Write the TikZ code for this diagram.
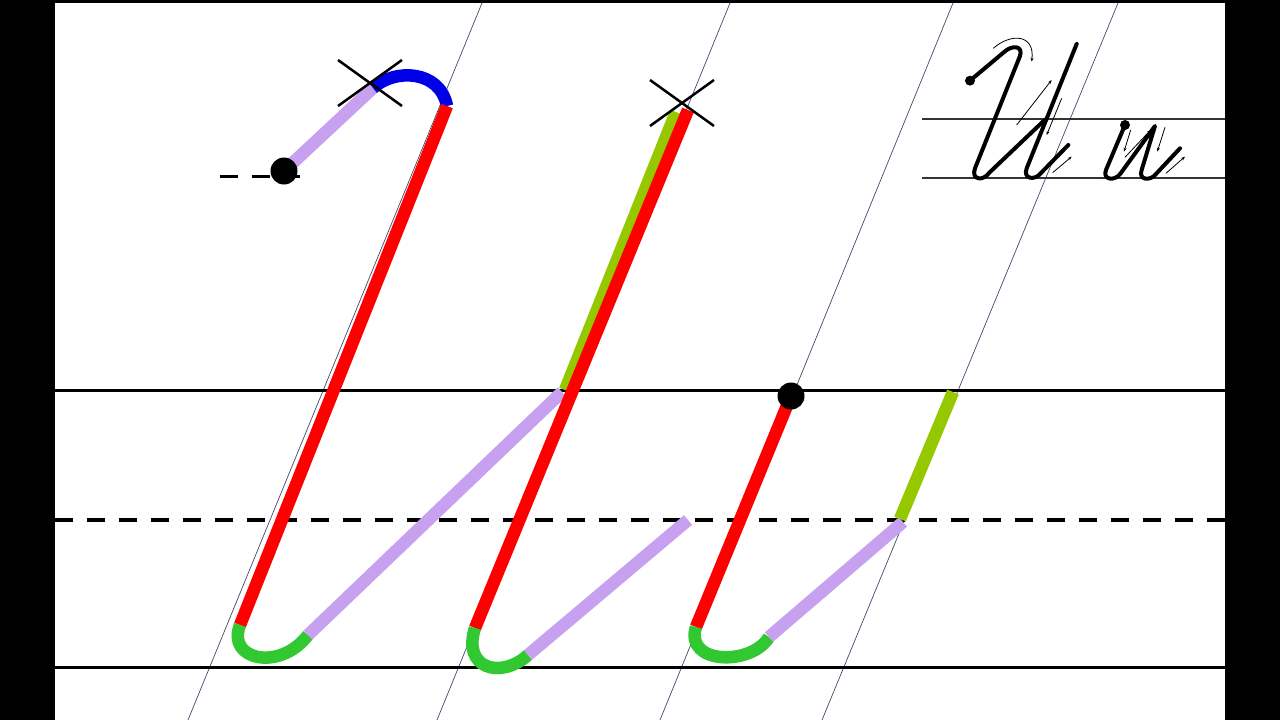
\documentclass[tikz,border=0pt]{standalone}
\usepackage{tikz}
\usetikzlibrary{arrows.meta}
\definecolor{strokered}{RGB}{255,0,0}
\definecolor{lilac}{RGB}{200,160,240}
\definecolor{hookgreen}{RGB}{50,200,50}
\definecolor{olive}{RGB}{150,200,0}
\definecolor{arcblue}{RGB}{0,0,230}
\definecolor{slantgray}{RGB}{70,70,110}
\begin{document}
\begin{tikzpicture}[
		x=1pt, y=-1pt,
		>=Stealth,
		penline/.style={line width=12.5pt, line cap=butt},
		ruleline/.style={line width=3pt, black},
		slantline/.style={line width=0.7pt, slantgray},
		crossmark/.style={line width=2.5pt, black},
		dotmark/.style={fill=black, circle, inner sep=0pt, minimum size=27pt},
		sample/.style={line width=4pt, black, line cap=round, line join=round},
		hint/.style={line width=0.8pt, black, -{Stealth[length=4pt,width=3pt]}},
	]
	\useasboundingbox (0,0) rectangle (1280,720);
	\fill[white] (0,0) rectangle (1280,720);

	% ruling
	\foreach \xa/\xb in {482/188, 730/437, 953/660, 1118/822}
		\draw[slantline] (\xa,3) -- (\xb,720);
	\draw[ruleline] (55,390) -- (1225,390);
	\draw[ruleline] (55,667) -- (1225,667);
	\draw[ruleline, line width=3.5pt, dash pattern=on 18pt off 14pt] (55,520) -- (1225,520);
	\draw[line width=1.2pt, black!80] (922,119) -- (1225,119);
	\draw[line width=1.2pt, black!80] (922,178) -- (1225,178);

	% first letter
	\coordinate (start1) at (284,171);
	\coordinate (cross1) at (373,88);
	\coordinate (top1) at (447,106);
	\coordinate (foot1) at (240,625);
	\coordinate (rise1) at (308,635);
	\coordinate (join1) at (562,392);
	\draw[line width=3pt, dash pattern=on 18pt off 14pt] (220,176) -- (300,176);
	\draw[penline, lilac] (start1) -- (cross1);
	\draw[penline, arcblue] (cross1) .. controls (395,68) and (440,70) .. (top1);
	\draw[penline, strokered] (top1) -- (foot1);
	\draw[penline, hookgreen] (foot1) .. controls (226,660) and (280,672) .. (rise1);
	\draw[penline, lilac] (rise1) -- (join1);

	% second letter
	\coordinate (cross2) at (682,103);
	\coordinate (top2) at (688,110);
	\coordinate (foot2) at (475,628);
	\coordinate (rise2) at (528,655);
	\coordinate (end2) at (688,520);
	\draw[penline, olive] (676,112) -- (565,390);
	\draw[penline, strokered] (top2) -- (foot2);
	\draw[penline, hookgreen] (foot2) .. controls (462,668) and (500,680) .. (rise2);
	\draw[penline, lilac] (rise2) -- (end2);

	% third letter
	\coordinate (start3) at (791,396);
	\coordinate (foot3) at (696,627);
	\coordinate (rise3) at (769,637);
	\coordinate (join3) at (903,522);
	\coordinate (end3) at (953,392);
	\draw[penline, strokered] (start3) -- (foot3);
	\draw[penline, hookgreen] (foot3) .. controls (684,665) and (752,666) .. (rise3);
	\draw[penline, lilac] (rise3) -- (join3);
	\draw[penline, olive] (900,519) -- (end3);

	% crosses and dots
	\draw[crossmark] (338,60) -- (402,106) (338,106) -- (402,60);
	\draw[crossmark] (650,80) -- (714,126) (650,126) -- (714,80);
	\node[dotmark] (dot1) at (start1) {};
	\node[dotmark] (dot3) at (start3) {};

	% sample letters
	\begin{scope}[shift={(920,30)}, x=0.3333pt, y=-0.3333pt]
		\draw[sample] (150,152) -- (250,68) .. controls (278,42) and (310,48) .. (300,78) -- (165,415)
			.. controls (152,450) and (190,455) .. (208,428) -- (374,270);
		\draw[sample] (470,42) -- (320,415) .. controls (308,448) and (345,452) .. (362,430) -- (445,345);
		\draw[sample] (615,285) -- (558,420) .. controls (546,450) and (585,455) .. (602,430) -- (705,288)
			-- (665,420) .. controls (654,450) and (690,455) .. (708,432) -- (780,355);
		\fill (150,152) circle (15);
		\fill (615,285) circle (15);
		\draw[hint] (220,55) .. controls (270,10) and (345,10) .. (335,95);
		\draw[hint] (290,285) -- (395,150);
		\draw[hint] (425,205) -- (380,315);
		\draw[hint] (398,428) -- (455,380);
		\draw[hint] (632,300) -- (612,365);
		\draw[hint] (615,382) -- (692,300);
		\draw[hint] (735,292) -- (712,365);
		\draw[hint] (738,430) -- (795,380);
	\end{scope}

	% frame
	\fill[black] (0,0) rectangle (55,720);
	\fill[black] (1225,0) rectangle (1280,720);
	\fill[black] (0,0) rectangle (1280,3);
\end{tikzpicture}
\end{document}
